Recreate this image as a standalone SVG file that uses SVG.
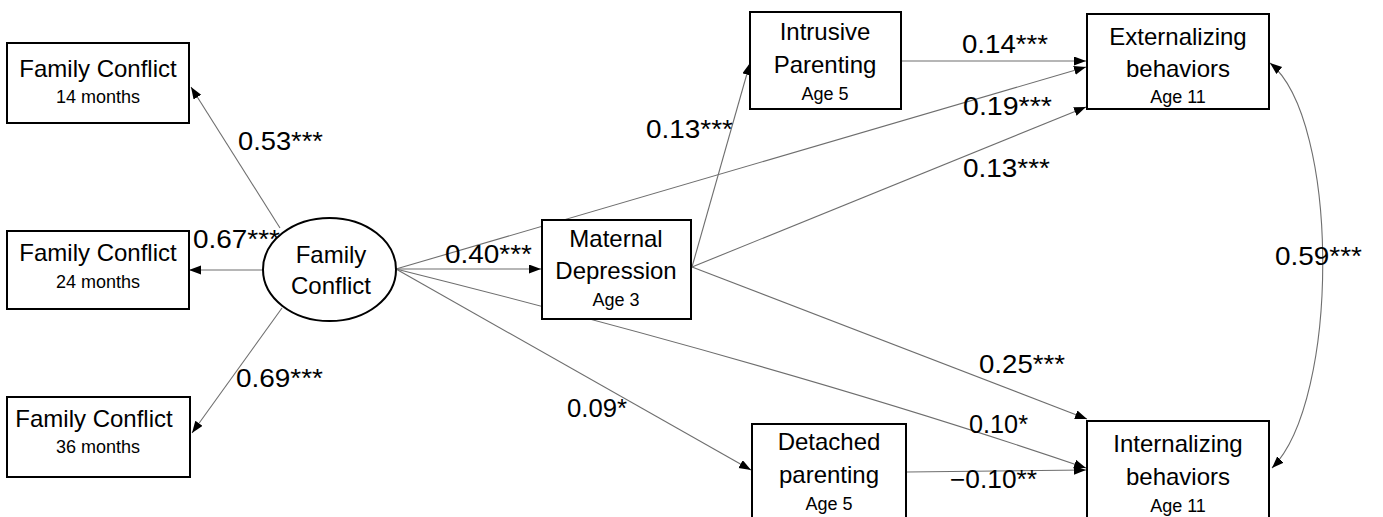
<svg xmlns="http://www.w3.org/2000/svg" width="1383" height="517" viewBox="0 0 1383 517">
<style>
.box{fill:#fff;stroke:#000;stroke-width:2}
.t{font-family:"Liberation Sans",Arial,sans-serif;font-size:24px;fill:#000;text-anchor:middle}
.s{font-family:"Liberation Sans",Arial,sans-serif;font-size:18px;fill:#000;text-anchor:middle}
.lb{font-family:"Liberation Sans",Arial,sans-serif;font-size:25px;fill:#000}
.c{fill:none;stroke:#6e6e6e;stroke-width:1.1}
</style>
<defs>
<marker id="ah" markerUnits="userSpaceOnUse" markerWidth="13" markerHeight="10" refX="12" refY="4.5" orient="auto-start-reverse" viewBox="0 0 13 10">
<path d="M0,0 L12,4.5 L0,9 z" fill="#000"/>
</marker>
</defs>
<rect width="1383" height="517" fill="#fff"/>
<g id="connectors">
<path class="c" d="M280,228 L191,87" marker-end="url(#ah)"/>
<path class="c" d="M263,270 L189,270" marker-end="url(#ah)"/>
<path class="c" d="M282,308 L192,433" marker-end="url(#ah)"/>
<path class="c" d="M396,269 L541,269" marker-end="url(#ah)"/>
<path class="c" d="M396,269 L1086,67" marker-end="url(#ah)"/>
<path class="c" d="M396,269 Q800,370 1086,468" marker-end="url(#ah)"/>
<path class="c" d="M396,269 L751,470" marker-end="url(#ah)"/>
<path class="c" d="M692,267 L750,63" marker-end="url(#ah)"/>
<path class="c" d="M692,267 L1086,107" marker-end="url(#ah)"/>
<path class="c" d="M692,267 L1087,419" marker-end="url(#ah)"/>
<path class="c" d="M901,61 L1086,61" marker-end="url(#ah)"/>
<path class="c" d="M907,472 L1086,470" marker-end="url(#ah)"/>
<path class="c" d="M1270,63 C1340,120 1340,400 1272,468" marker-start="url(#ah)" marker-end="url(#ah)"/>
</g>
<g id="labels">
<text class="lb" x="238" y="150" textLength="85" lengthAdjust="spacingAndGlyphs">0.53***</text>
<text class="lb" x="193" y="248" textLength="87" lengthAdjust="spacingAndGlyphs">0.67***</text>
<text class="lb" x="236" y="387" textLength="87" lengthAdjust="spacingAndGlyphs">0.69***</text>
<text class="lb" x="445" y="263" textLength="87" lengthAdjust="spacingAndGlyphs">0.40***</text>
<text class="lb" x="646" y="138" textLength="87" lengthAdjust="spacingAndGlyphs">0.13***</text>
<text class="lb" x="962" y="53" textLength="86" lengthAdjust="spacingAndGlyphs">0.14***</text>
<text class="lb" x="963" y="115" textLength="89" lengthAdjust="spacingAndGlyphs">0.19***</text>
<text class="lb" x="963" y="177" textLength="87" lengthAdjust="spacingAndGlyphs">0.13***</text>
<text class="lb" x="1275" y="265" textLength="87" lengthAdjust="spacingAndGlyphs">0.59***</text>
<text class="lb" x="979" y="373" textLength="86" lengthAdjust="spacingAndGlyphs">0.25***</text>
<text class="lb" x="969" y="433" textLength="59" lengthAdjust="spacingAndGlyphs">0.10*</text>
<text class="lb" x="567" y="417" textLength="60" lengthAdjust="spacingAndGlyphs">0.09*</text>
<text class="lb" x="950" y="488" textLength="87" lengthAdjust="spacingAndGlyphs">−0.10**</text>
</g>
<g id="fc14">
<rect class="box" x="7" y="43" width="182" height="80"/>
<text class="t" x="98" y="77">Family Conflict</text>
<text class="s" x="98" y="103">14 months</text>
</g>
<g id="fc24">
<rect class="box" x="7" y="231" width="182" height="78"/>
<text class="t" x="98" y="261">Family Conflict</text>
<text class="s" x="98" y="288">24 months</text>
</g>
<g id="fc36">
<rect class="box" x="7" y="397" width="183" height="80"/>
<text class="t" x="94" y="427">Family Conflict</text>
<text class="s" x="98" y="453">36 months</text>
</g>
<g id="familyConflict">
<ellipse cx="329.5" cy="269.5" rx="66.5" ry="51.5" fill="#fff" stroke="#000" stroke-width="2"/>
<text class="t" x="331" y="263">Family</text>
<text class="t" x="331" y="294">Conflict</text>
</g>
<g id="maternalDepression">
<rect class="box" x="542" y="220" width="149" height="99"/>
<text class="t" x="616" y="247">Maternal</text>
<text class="t" x="616" y="279">Depression</text>
<text class="s" x="616" y="306">Age 3</text>
</g>
<g id="intrusiveParenting">
<rect class="box" x="750" y="12" width="151" height="97"/>
<text class="t" x="825" y="40">Intrusive</text>
<text class="t" x="825" y="73">Parenting</text>
<text class="s" x="825" y="100">Age 5</text>
</g>
<g id="externalizing">
<rect class="box" x="1087" y="14" width="182" height="95"/>
<text class="t" x="1178" y="45">Externalizing</text>
<text class="t" x="1178" y="77">behaviors</text>
<text class="s" x="1178" y="103">Age 11</text>
</g>
<g id="detachedParenting">
<rect class="box" x="752" y="424" width="154" height="100"/>
<text class="t" x="829" y="450">Detached</text>
<text class="t" x="829" y="483">parenting</text>
<text class="s" x="829" y="510">Age 5</text>
</g>
<g id="internalizing">
<rect class="box" x="1087" y="421" width="182" height="100"/>
<text class="t" x="1178" y="452">Internalizing</text>
<text class="t" x="1178" y="485">behaviors</text>
<text class="s" x="1178" y="512">Age 11</text>
</g>
</svg>
